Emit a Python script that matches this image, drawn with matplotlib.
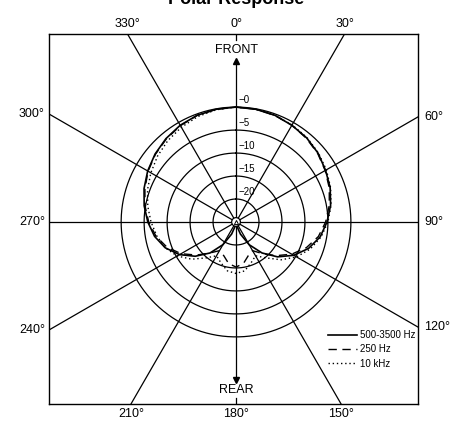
import matplotlib
matplotlib.use("Agg")
import matplotlib.pyplot as plt
import numpy as np

plt.rcParams["font.family"] = ["Liberation Sans", "DejaVu Sans"]

# angles in degrees, clockwise from front (0 = top)
angles = np.arange(0, 360, 10)

# response in dB
mid_band = [0, -0.1, -0.3, -0.7, -1.1, -1.7, -2.5, -3.2, -4.1, -5.2,
            -6.4, -8.2, -10.5, -13.2, -16.2, -19.3, -22.2, -24.2, -25,
            -24.2, -22.2, -19.3, -16.2, -13.4, -10.8, -8.6, -7.0, -5.8,
            -4.7, -3.7, -2.8, -2.0, -1.3, -0.7, -0.3, -0.1]
low_250 = [0, -0.1, -0.3, -0.7, -1.2, -1.8, -2.6, -3.4, -4.4, -5.5,
           -6.8, -8.7, -11.0, -13.6, -16.0, -17.8, -17.2, -15.8, -15.2,
           -15.8, -17.2, -17.8, -16.2, -13.8, -11.2, -9.0, -7.3, -6.0,
           -4.9, -3.9, -2.9, -2.1, -1.4, -0.8, -0.3, -0.1]
high_10k = [0, -0.1, -0.3, -0.6, -1.0, -1.6, -2.3, -3.1, -4.0, -5.0,
            -6.2, -7.8, -9.8, -12.2, -14.8, -16.5, -15.5, -14.2, -13.8,
            -14.2, -15.5, -16.5, -14.8, -12.4, -10.2, -8.6, -7.5, -6.5,
            -5.5, -4.5, -3.6, -2.7, -1.9, -1.2, -0.6, -0.2]
labels = ["500-3500 Hz", "250 Hz", "10 kHz"]

ring_db = [0, -5, -10, -15, -20]
floor_db = -25
spoke_angles = [30, 60, 90, 120, 150, 210, 240, 270, 300, 330]


def to_xy(ang, db):
    r = np.array(db, dtype=float) - floor_db
    t = np.radians(np.append(ang, ang[0]))
    r = np.append(r, r[0])
    return r * np.sin(t), r * np.cos(t)


fig = plt.figure(figsize=(4.59, 4.22), dpi=100)
ax = fig.add_axes([49 / 459, 18 / 422, 369 / 459, 370 / 422])
ax.set_xlim(-40.7, 39.6)
ax.set_ylim(-39.6, 40.9)
ax.set_xticks([])
ax.set_yticks([])
for s in ax.spines.values():
    s.set_linewidth(1.0)

# rings
th = np.linspace(0, 2 * np.pi, 400)
for db in ring_db:
    r = db - floor_db
    ax.plot(r * np.sin(th), r * np.cos(th), color="black", lw=0.9)
    ax.text(0.6, r + 0.4, "\u2212" + str(abs(db)), fontsize=7, ha="left", va="bottom")

# spokes
for a in spoke_angles:
    t = np.radians(a)
    ax.plot([0, 100 * np.sin(t)], [0, 100 * np.cos(t)], color="black", lw=0.9)

# front / rear axis with arrows
ax.plot([0, 0], [0, 35.0], color="black", lw=0.9)
ax.plot([0], [35.0], marker="^", color="black", ms=4)
ax.plot([0, 0], [39.5, 41], color="black", lw=0.9)
ax.text(0, 37.4, "FRONT", ha="center", va="center", fontsize=9)
ax.plot([0, 0], [0, -34.4], color="black", lw=0.9)
ax.plot([0], [-34.4], marker="v", color="black", ms=4)
ax.plot([0, 0], [-38.3, -40], color="black", lw=0.9)
ax.text(0, -36.6, "REAR", ha="center", va="center", fontsize=9)

# curves
x, y = to_xy(angles, mid_band)
ax.plot(x, y, color="black", lw=1.2, label=labels[0])
x, y = to_xy(angles, low_250)
ax.plot(x, y, color="black", lw=1.0, linestyle=(0, (6, 4)), label=labels[1])
x, y = to_xy(angles, high_10k)
ax.plot(x, y, color="black", lw=1.0, linestyle=(0, (1, 2)), label=labels[2])

# mic symbol at centre
ax.add_patch(plt.Circle((0, 0), 0.95, facecolor="white", edgecolor="black", lw=0.9, zorder=5))
ax.plot([0], [0], marker="^", ms=3, mfc="white", mec="black", mew=0.7, zorder=6)

# angle labels outside the box
for a in [330, 0, 30]:
    ax.text(np.tan(np.radians(a)) * 40.9 if a != 0 else 0, 43.0, f"{a}\u00b0",
            ha="center", va="center", fontsize=9, clip_on=False)
for a in [210, 180, 150]:
    ax.text(-np.tan(np.radians(a)) * 39.6 if a != 180 else 0, -41.8, f"{a}\u00b0",
            ha="center", va="center", fontsize=9, clip_on=False)
for a in [300, 270, 240]:
    yy = -40.7 / np.tan(np.radians(a)) if a != 270 else 0
    ax.text(-41.6, yy, f"{a}\u00b0", ha="right", va="center", fontsize=9, clip_on=False)
for a in [60, 90, 120]:
    yy = 39.6 / np.tan(np.radians(a)) if a != 90 else 0
    ax.text(41.0, yy, f"{a}\u00b0", ha="left", va="center", fontsize=9, clip_on=False)

ax.legend(loc="upper left", bbox_to_anchor=(328 / 459, 1 - 330 / 422),
          bbox_transform=fig.transFigure, frameon=False, fontsize=7,
          handlelength=3.0, handletextpad=0.3, labelspacing=0.45,
          borderpad=0, borderaxespad=0)

fig.text(236 / 459, 1 - 4.5 / 422, "Polar Response", ha="center", va="baseline",
         fontsize=13, fontweight="bold")

fig.savefig("out.png", dpi=100)
